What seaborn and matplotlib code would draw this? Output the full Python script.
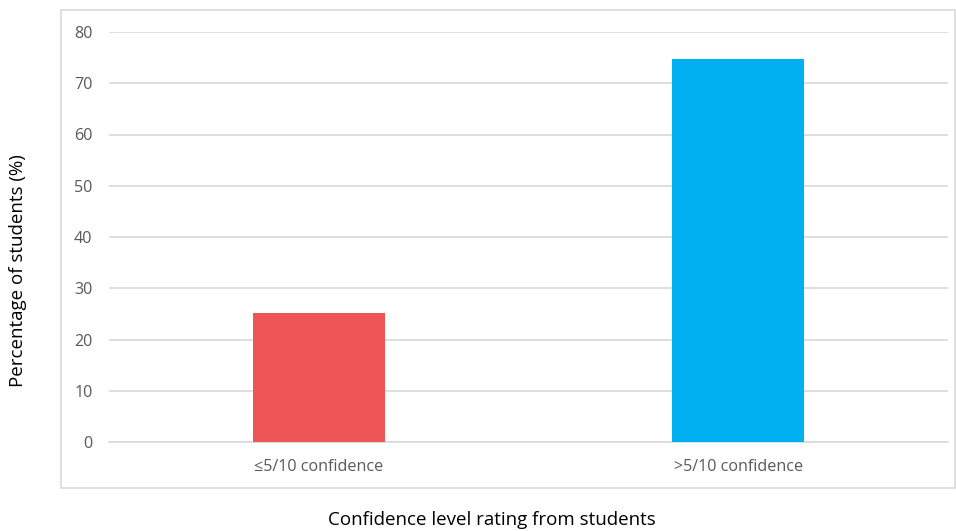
import matplotlib
matplotlib.use("Agg")
import matplotlib.pyplot as plt
import seaborn as sns
import pandas as pd
from matplotlib.patches import Rectangle

# dados
categorias = ["≤5/10 confidence", ">5/10 confidence"]
percentuais = [25.2, 74.8]
cores = ["#EE5557", "#00B0F0"]
yticks = [0, 10, 20, 30, 40, 50, 60, 70, 80]

sns.set_theme(style="white")
plt.rcParams["font.family"] = ["Open Sans", "DejaVu Sans"]

df = pd.DataFrame({"categoria": categorias, "percentual": percentuais})

fig = plt.figure(figsize=(9.56, 5.31), dpi=100)
ax = fig.add_axes([109 / 956, 89 / 531, 839 / 956, 410 / 531])

sns.barplot(
    data=df,
    x="categoria",
    y="percentual",
    hue="categoria",
    palette=cores,
    width=0.315,
    saturation=1,
    legend=False,
    linewidth=0,
    ax=ax,
    zorder=3
)

ax.set_ylim(0, 80)
ax.set_xlim(-0.5, 1.5)
ax.set_yticks(yticks)
ax.yaxis.grid(True, color="#D9D9D9", linewidth=1.2, zorder=0)
ax.set_axisbelow(True)

for lado in ["top", "right", "left"]:
    ax.spines[lado].set_visible(False)
ax.spines["bottom"].set_color("#D9D9D9")
ax.spines["bottom"].set_linewidth(1.2)

ax.tick_params(axis="y", length=0, pad=12, labelsize=11.6, labelcolor="#595959")
ax.tick_params(axis="x", length=0, pad=12, labelsize=11.6, labelcolor="#595959")

ax.set_xlabel("")
ax.set_ylabel("")

# borda da area do grafico
borda = Rectangle(
    (61 / 956, 1 - 488 / 531),
    894 / 956,
    478 / 531,
    transform=fig.transFigure,
    fill=False,
    edgecolor="#D9D9D9",
    linewidth=1.2
)
fig.patches.append(borda)

fig.text(492 / 956, 1 - 520 / 531, "Confidence level rating from students",
         ha="center", va="center", fontsize=13.5, color="black")
fig.text(18 / 956, 1 - 271 / 531, "Percentage of students (%)",
         ha="center", va="center", rotation=90, fontsize=13.5, color="black")

fig.savefig("out.png", dpi=100)
